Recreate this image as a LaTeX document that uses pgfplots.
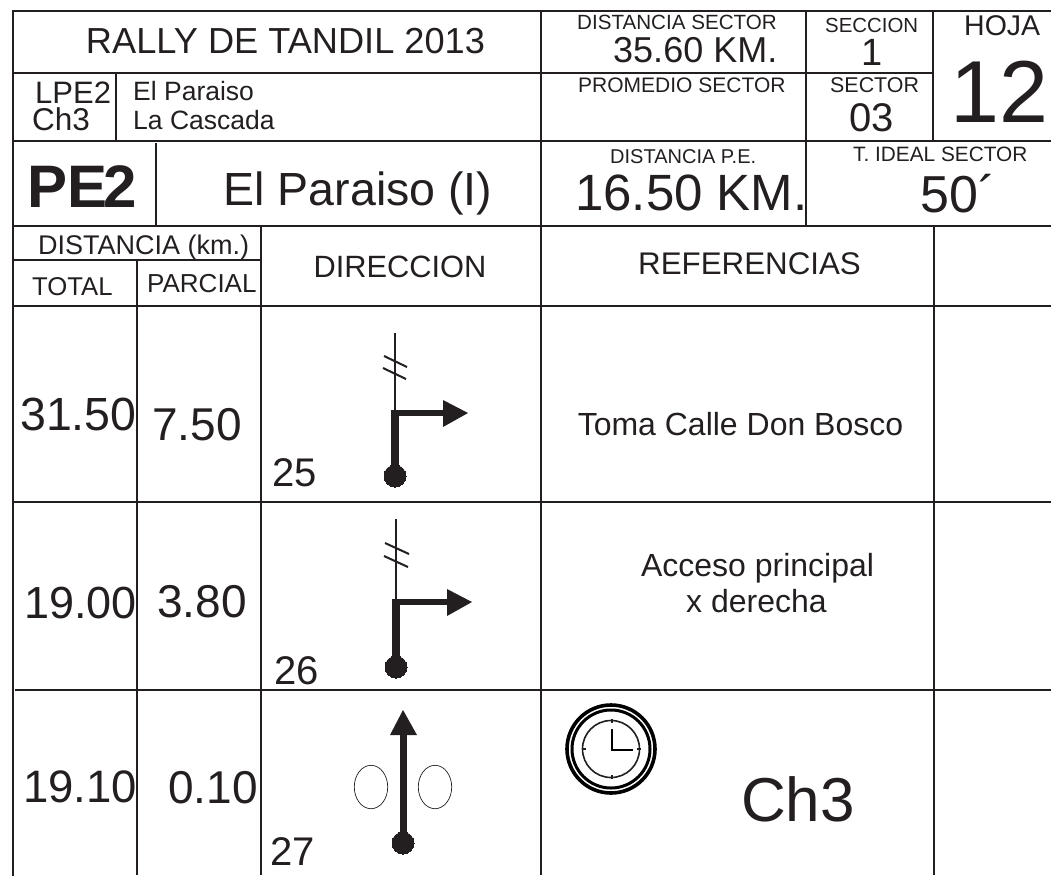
\documentclass[border=0pt]{standalone}
\usepackage{fontspec}
\setmainfont{Liberation Sans}
\usepackage{pgfplots}
\pgfplotsset{compat=1.18}
\definecolor{ink}{HTML}{231F20}
\newcommand\hl[3]{\addplot[ink,line width=2.5pt] coordinates {(#1,#3)(#2,#3)};}
\newcommand\vl[3]{\addplot[ink,line width=2.5pt] coordinates {(#1,#2)(#1,#3)};}
\newcommand\seg[5]{\addplot[ink,line width=#5pt] coordinates {(#1,#2)(#3,#4)};}
\newcommand\tri[6]{\addplot[fill=ink,draw=none] coordinates {(#1,#2)(#3,#4)(#5,#6)};}
\newcommand\dotm[2]{\addplot[only marks,mark=*,mark size=11pt,mark options={fill=ink,draw=ink,line width=0pt}] coordinates {(#1,#2)};}
% left edge x, baseline y, size, text
\newcommand\tl[4]{\node[anchor=base west,inner sep=0pt,text=ink,font=\fontsize{#3}{#3}\selectfont] at (axis cs:#1,#2) {#4};}
\newcommand\tc[4]{\node[anchor=base,inner sep=0pt,text=ink,font=\fontsize{#3}{#3}\selectfont] at (axis cs:#1,#2) {#4};}
\begin{document}
\begin{tikzpicture}
\begin{axis}[scale only axis,width=1051pt,height=876pt,xmin=0,xmax=1051,ymin=0,ymax=876,y dir=reverse,hide axis]
\path (axis cs:0,0) rectangle (axis cs:1051,876);
% horizontal rules
\hl{12}{1051}{11}
\hl{12}{933}{73}
\hl{12}{1051}{141}
\hl{12}{1051}{226}
\hl{12}{261}{260}
\hl{12}{1051}{306}
\hl{12}{1051}{502}
\hl{15}{1051}{690}
% vertical rules
\vl{13}{10}{876}
\vl{116}{73}{141}
\vl{156}{143}{226}
\vl{137}{260}{875}
\vl{261}{226}{875}
\vl{541}{10}{875}
\vl{806}{10}{226}
\vl{933}{11}{141}
\vl{934}{226}{875}
% header text
\tc{285.5}{53}{36.2}{RALLY DE TANDIL 2013}
\tl{35}{103}{31}{LPE2}
\tl{32}{130}{31.5}{Ch3}
\tl{133}{100}{26.5}{El Paraiso}
\tl{133}{129}{26.5}{La Cascada}
\tl{27}{207}{60}{\bfseries PE\kern-4pt 2}
\tc{358}{205}{46.5}{El Paraiso (I)}
\tl{38}{254}{27}{DISTANCIA (km.)}
\tl{32}{295}{25.7}{TOTAL}
\tl{147}{292}{26}{PARCIAL}
\tc{400}{277}{30.8}{DIRECCION}
\tc{749.5}{274}{31.3}{REFERENCIAS}
\tl{577}{29}{20.6}{DISTANCIA SECTOR}
\tl{613}{62}{36}{35.60 KM.}
\tl{578}{92}{21}{PROMEDIO SECTOR}
\tl{825}{32}{20.4}{SECCION}
\tc{872}{65}{38}{1}
\tl{830}{92}{21.4}{SECTOR}
\tl{849}{131}{40}{03}
\tl{964}{35}{28.5}{HOJA}
\tc{999}{122}{88}{12}
\tl{610}{163}{20}{DISTANCIA P.E.}
\tl{575}{210}{51}{16.50 KM.}
\tl{853}{161}{20.8}{T. IDEAL SECTOR}
\tl{920}{212}{52}{50´}
% distances
\tl{20}{430}{46.5}{31.50}
\tl{152}{440}{46}{7.50}
\tl{24}{618}{45}{19.00}
\tl{157}{617}{46}{3.80}
\tl{23}{802}{45.5}{19.10}
\tl{168}{803}{46}{0.10}
\tl{272}{486}{40}{25}
\tl{274}{684}{40}{26}
\tl{270}{865}{40}{27}
% references
\tc{740.5}{435}{32}{Toma Calle Don Bosco}
\tc{757.5}{576}{32}{Acceso principal}
\tc{756.5}{612}{32}{x derecha}
\tl{741}{821}{62}{Ch3}
% symbol row 1
\seg{395}{333}{395}{411}{2}
\seg{384}{356}{407}{367}{2}
\seg{383}{368}{406}{379}{2}
\seg{395}{410}{395}{477}{7.5}
\seg{392}{413}{445}{413}{6}
\tri{443}{400}{468}{413}{443}{427}
\dotm{395}{476}
% symbol row 2
\seg{396}{519}{396}{601}{2}
\seg{385}{543}{409}{554}{2}
\seg{384}{556}{408}{567}{2}
\seg{396}{599}{396}{667}{7.5}
\seg{393}{602}{449}{602}{6}
\tri{447}{589}{472}{602}{447}{616}
\dotm{396}{667}
% symbol row 3
\seg{403}{843}{403}{733}{7}
\tri{390}{735}{403}{710}{417}{735}
\dotm{403}{843}
\addplot[only marks,mark=o,mark size=21.7pt,mark options={xscale=.77,draw=ink,line width=.7pt}] coordinates {(371,787)(435,787)};
% clock
\addplot[only marks,mark=o,mark size=44pt,mark options={draw=black,line width=3.6pt}] coordinates {(611,749)};
\addplot[only marks,mark=o,mark size=39pt,mark options={draw=black,line width=3pt}] coordinates {(611,749)};
\addplot[only marks,mark=o,mark size=28.5pt,mark options={draw=ink,line width=1.6pt}] coordinates {(611,749)};
\addplot[black,line width=2.5pt] coordinates {(612,729)(612,750)(633,750)};
\seg{612}{719}{612}{723}{2}
\seg{612}{775}{612}{779}{2}
\seg{582}{749}{586}{749}{2}
\seg{637}{749}{641}{749}{2}
\end{axis}
\end{tikzpicture}
\end{document}
